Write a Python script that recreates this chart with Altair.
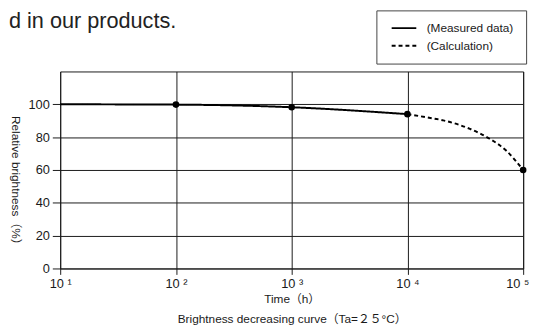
import altair as alt
import pandas as pd

# ---- data ----
series_names = ["(Measured data)", "(Calculation)"]
measured_time = [10, 100, 1000, 10000]
measured_value = [100.0, 99.8, 98.2, 94.0]
calc_time = [10000, 14800, 20400, 28200, 34700, 51300, 70800, 100000]
calc_value = [94.0, 92.0, 90.2, 87.4, 85.0, 79.0, 72.0, 60.0]
dot_time = [100, 1000, 10000, 100000]
dot_value = [99.8, 98.2, 94.0, 60.0]
x_ticks = [10, 100, 1000, 10000, 100000]
y_ticks = [0, 20, 40, 60, 80, 100]
header_fragment = ["d in our products."]

lines_df = pd.concat([
    pd.DataFrame({"time": measured_time, "value": measured_value, "series": series_names[0]}),
    pd.DataFrame({"time": calc_time, "value": calc_value, "series": series_names[1]}),
])
dots_df = pd.DataFrame({"time": dot_time, "value": dot_value})
header_df = pd.DataFrame({"text": header_fragment})

LATIN = "Liberation Sans, Noto Sans CJK JP"
INK = "#1a1a1a"

xs = alt.Scale(type="log", domain=[10, 100000], nice=False)
ys = alt.Scale(domain=[0, 120], nice=False, zero=True)

x_axis = alt.Axis(
    values=x_ticks,
    labelExpr=("datum.value == 10 ? '10 ¹' : datum.value == 100 ? '10 ²' : "
               "datum.value == 1000 ? '10 ³' : datum.value == 10000 ? '10 ⁴' : '10 ⁵'"),
    grid=True, gridColor=INK, gridWidth=1, gridOpacity=1,
    domain=False, tickSize=6, tickColor=INK, tickWidth=1,
    labelFont=LATIN, labelFontSize=13, labelColor=INK, labelPadding=3,
    labelOffset={"condition": {"test": "datum.value === 100000", "value": -6}, "value": 0},
    labelFlush=False, labelOverlap=False,
    title=["Time（h）", "Brightness decreasing curve（Ta=２５°C）"],
    titleFont=LATIN, titleFontSize=12, titleFontWeight="normal", titleColor=INK,
    titleX=235, titleY=35, titleAlign="center", titleBaseline="alphabetic",
    titleLineHeight=20,
)
y_axis = alt.Axis(
    values=y_ticks,
    grid=True, gridColor=INK, gridWidth=1, gridOpacity=1,
    domain=False, tickSize=8, tickColor=INK, tickWidth=1,
    labelFont=LATIN, labelFontSize=13, labelColor=INK, labelPadding=3,
    title="Relative brightness（%）",
    titleFont=LATIN, titleFontSize=12, titleFontWeight="normal", titleColor=INK,
    titleAngle=90, titleX=-45, titleY=113, titleAlign="center", titleBaseline="middle",
)

X = alt.X("time:Q", scale=xs, axis=x_axis)
Y = alt.Y("value:Q", scale=ys, axis=y_axis)

lines = alt.Chart(lines_df).mark_line(color="black", strokeWidth=2, interpolate="monotone").encode(
    x=X, y=Y,
    strokeDash=alt.StrokeDash(
        "series:N",
        scale=alt.Scale(domain=series_names, range=[[1, 0], [4, 3]]),
        legend=alt.Legend(
            title=None, orient="none", legendX=321, legendY=-62,
            strokeColor="#444", fillColor="white", padding=12,
            symbolType="M-1,0H9", symbolSize=25, symbolStrokeWidth=2,
            symbolStrokeColor="black", symbolFillColor="black",
            labelFont=LATIN, labelFontSize=12, labelColor=INK, labelOffset=27,
            rowPadding=6,
        ),
    ),
)

dots = alt.Chart(dots_df).mark_circle(size=45, color="black", opacity=1).encode(x=X, y=Y)

header = alt.Chart(header_df).mark_text(
    align="left", baseline="alphabetic", font=LATIN, fontSize=22, color="#222"
).encode(text="text:N", x=alt.value(-52), y=alt.value(-44))

chart = alt.layer(header, lines, dots).properties(
    width=470, height=200,
    autosize=alt.AutoSizeParams(type="none"),
    padding={"left": 53, "top": 62, "right": 11, "bottom": 57},
).configure_view(stroke=INK, strokeWidth=1)

chart.save("out.html", embed_options={"renderer": "svg", "actions": False})
